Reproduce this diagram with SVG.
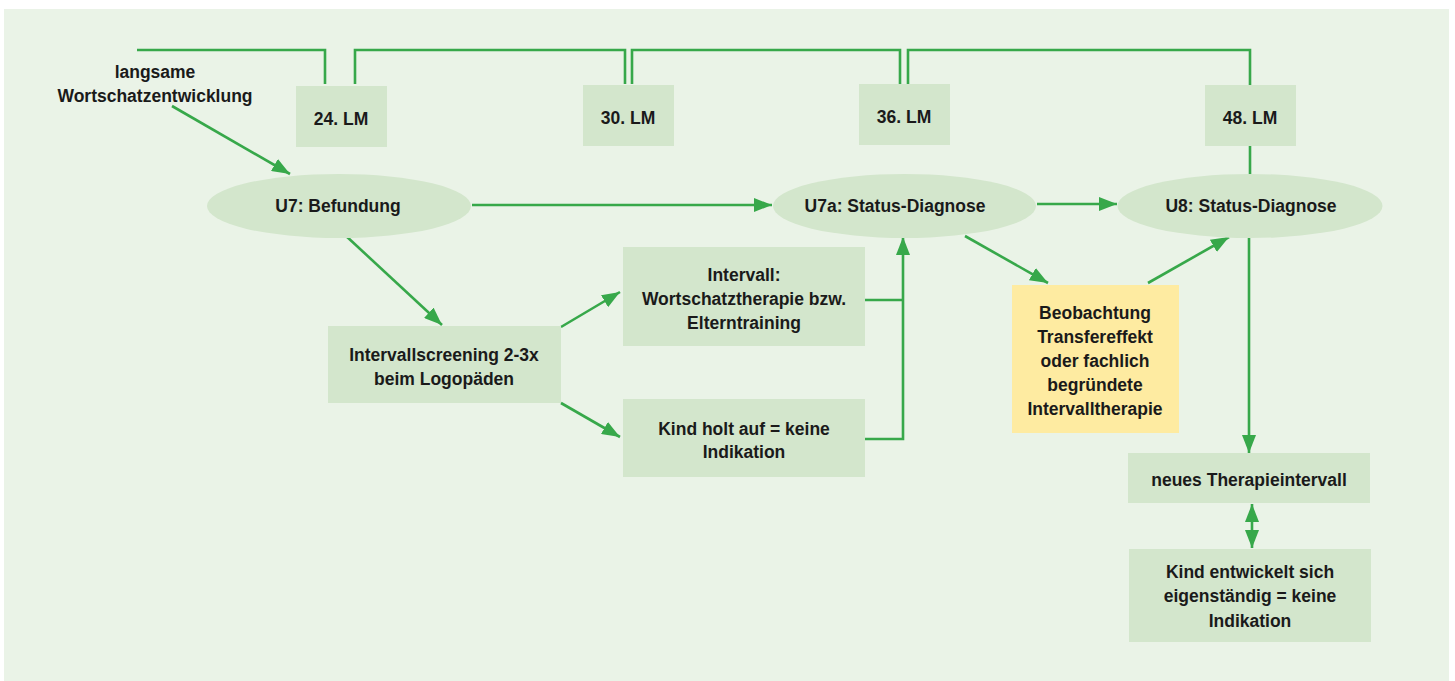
<svg xmlns="http://www.w3.org/2000/svg" width="1455" height="681" viewBox="0 0 1455 681">
<defs>
<style>
.box{fill:#d3e6cc}
.yel{fill:#feeba1}
.el{fill:#d3e6cc}
.t{font-family:"Liberation Sans",Arial,sans-serif;font-weight:bold;font-size:17.5px;fill:#1a1a1a;text-anchor:middle}
.c{fill:none;stroke:#37a84a;stroke-width:2.6}
.a{marker-end:url(#ah)}
</style>
<marker id="ah" markerUnits="userSpaceOnUse" markerWidth="18" markerHeight="14" viewBox="0 0 18 14" refX="18" refY="7" orient="auto-start-reverse">
<path d="M0,0 L18,7 L0,14 z" fill="#37a84a"/>
</marker>
</defs>
<rect x="0" y="0" width="1455" height="681" fill="#ffffff"/>
<rect x="4" y="9" width="1445" height="672" fill="#eaf3e7"/>

<g id="connectors">
<path class="c" d="M137,50 H325 V84"/>
<path class="c" d="M355,84 V50 H625 V84"/>
<path class="c" d="M632,84 V50 H900 V84"/>
<path class="c" d="M908,84 V50 H1250 V85"/>
<path class="c" d="M1250,146 V175"/>
<path class="c a" d="M172,106 L290,174"/>
<path class="c a" d="M472,205 H772"/>
<path class="c a" d="M1037,204 H1117"/>
<path class="c a" d="M345,235 L442,325"/>
<path class="c a" d="M561,327 L620,292"/>
<path class="c a" d="M561,403 L620,437"/>
<path class="c" d="M865,300 H903"/>
<path class="c a" d="M865,439 H903 V237"/>
<path class="c a" d="M965,236 L1048,283"/>
<path class="c a" d="M1148,283 L1229,237"/>
<path class="c a" d="M1249,234 V453"/>
<path class="c" d="M1252,504 V548" style="marker-start:url(#ah);marker-end:url(#ah)"/>
</g>

<g id="start">
<text class="t" x="155" y="78">langsame</text>
<text class="t" x="155" y="102">Wortschatzentwicklung</text>
</g>
<g id="lm24"><rect class="box" x="296" y="86" width="91" height="61"/><text class="t" x="341" y="125">24. LM</text></g>
<g id="lm30"><rect class="box" x="583" y="85" width="91" height="61"/><text class="t" x="628" y="124">30. LM</text></g>
<g id="lm36"><rect class="box" x="859" y="84" width="91" height="61"/><text class="t" x="904" y="123">36. LM</text></g>
<g id="lm48"><rect class="box" x="1205" y="85" width="91" height="61"/><text class="t" x="1250" y="124">48. LM</text></g>

<g id="u7"><ellipse class="el" cx="339" cy="206" rx="132" ry="32"/><text class="t" x="338" y="212">U7: Befundung</text></g>
<g id="u7a"><ellipse class="el" cx="904.5" cy="206" rx="131.5" ry="32"/><text class="t" x="895" y="212">U7a: Status-Diagnose</text></g>
<g id="u8"><ellipse class="el" cx="1250" cy="206" rx="132.5" ry="32"/><text class="t" x="1251" y="212">U8: Status-Diagnose</text></g>

<g id="screening"><rect class="box" x="328" y="326" width="233" height="77"/>
<text class="t" x="444" y="361">Intervallscreening 2-3x</text><text class="t" x="444" y="385">beim Logopäden</text></g>
<g id="intervall"><rect class="box" x="623" y="247" width="242" height="99"/>
<text class="t" x="744" y="281">Intervall:</text><text class="t" x="744" y="305">Wortschatztherapie bzw.</text><text class="t" x="744" y="329">Elterntraining</text></g>
<g id="kindholt"><rect class="box" x="623" y="399" width="242" height="78"/>
<text class="t" x="744" y="435">Kind holt auf = keine</text><text class="t" x="744" y="458">Indikation</text></g>
<g id="beobachtung"><rect class="yel" x="1012" y="285" width="167" height="148"/>
<text class="t" x="1095" y="319">Beobachtung</text><text class="t" x="1095" y="343">Transfereffekt</text><text class="t" x="1095" y="367">oder fachlich</text><text class="t" x="1095" y="391">begründete</text><text class="t" x="1095" y="415">Intervalltherapie</text></g>
<g id="neues"><rect class="box" x="1128" y="453" width="242" height="50"/>
<text class="t" x="1249" y="486">neues Therapieintervall</text></g>
<g id="kindentw"><rect class="box" x="1129" y="549" width="242" height="93"/>
<text class="t" x="1250" y="578">Kind entwickelt sich</text><text class="t" x="1250" y="602">eigenständig = keine</text><text class="t" x="1250" y="627">Indikation</text></g>
</svg>
